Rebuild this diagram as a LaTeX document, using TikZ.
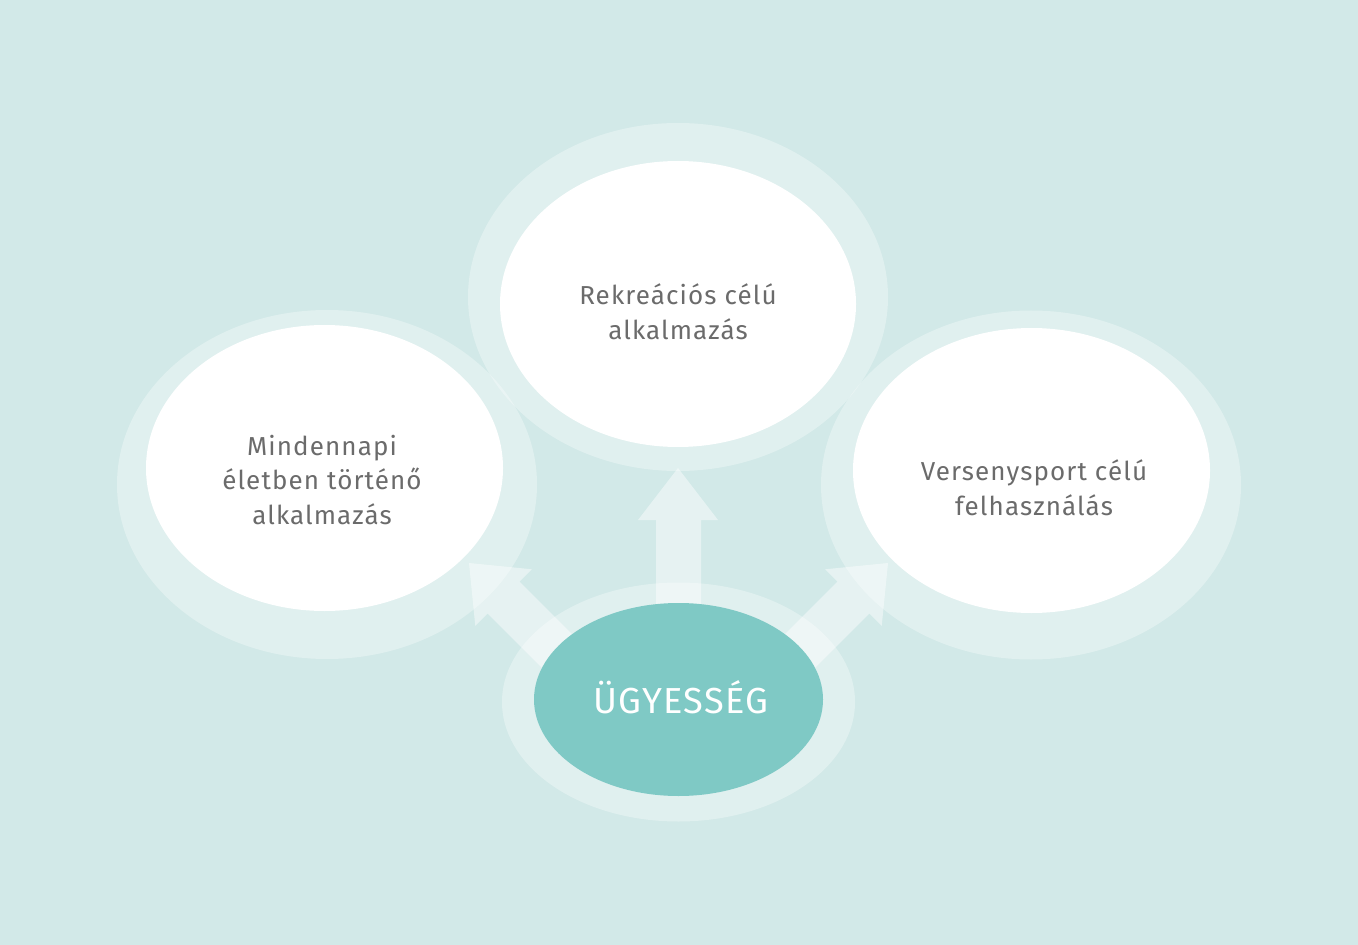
\documentclass[tikz,border=0pt]{standalone}
\usepackage{fontspec}
\setmainfont{Fira Sans}
\newfontfamily\lblfont[LetterSpace=4.3]{Fira Sans}
\newfontfamily\mainfont[LetterSpace=3.5]{Fira Sans}
\usetikzlibrary{shapes.geometric}
\definecolor{bgc}{HTML}{D2E9E8}
\definecolor{teal}{HTML}{7FC9C5}
\definecolor{txt}{HTML}{6B6B6B}
\tikzset{
  ring/.style={fill=white, fill opacity=0.32},
  innerw/.style={fill=white},
  fatarrow/.style={fill=white, fill opacity=0.45},
  label/.style={text=txt, align=center, font=\lblfont\fontsize{14.8}{19.8}\selectfont},
  mainlabel/.style={text=white, font=\mainfont\fontsize{20.6}{24}\selectfont}
}
\begin{document}
\begin{tikzpicture}[x=0.02cm,y=-0.02cm]
\fill[bgc] (0,0) rectangle (1358,945);
\useasboundingbox (0,0) rectangle (1358,945);
% outer rings
\fill[ring] (678,297) ellipse [x radius=210, y radius=174];
\fill[ring] (327,484.5) ellipse [x radius=210, y radius=174.5];
\fill[ring] (1031,485) ellipse [x radius=210, y radius=174.5];
% inner white ellipses
\fill[innerw] (678,304) ellipse [x radius=178, y radius=143];
\fill[innerw] (324.5,468) ellipse [x radius=178.5, y radius=143];
\fill[innerw] (1031.5,470.5) ellipse [x radius=178.5, y radius=142.5];
% arrows
\coordinate (upTip) at (678,468);
\coordinate (lTip) at (469,563);
\coordinate (rTip) at (888,563);
\fill[fatarrow] (upTip) -- (718,520) -- (701,520) -- (701,660) -- (656,660) -- (656,520) -- (638,520) -- cycle;
\fill[fatarrow] (lTip) -- (531.9,569.3) -- (519.5,581.7) -- (625.6,687.8) -- (593.8,719.6) -- (487.7,613.5) -- (475.3,625.9) -- cycle;
\fill[fatarrow] (rTip) -- (825.1,569.3) -- (837.5,581.7) -- (731.4,687.8) -- (763.2,719.6) -- (869.3,613.5) -- (881.7,625.9) -- cycle;
% center
\fill[ring] (678.5,702) ellipse [x radius=176.5, y radius=119.5];
\fill[teal] (678.5,699.5) ellipse [x radius=144.5, y radius=96.5];
% labels
\node[label] (top) at (678,312) {Rekreációs célú\\alkalmazás};
\node[label] (left) at (322,480) {Mindennapi\\életben történő\\alkalmazás};
\node[label] (right) at (1034,488) {Versenysport célú\\felhasználás};
\node[mainlabel] (center) at (681,697.5) {ÜGYESSÉG};
\end{tikzpicture}
\end{document}
